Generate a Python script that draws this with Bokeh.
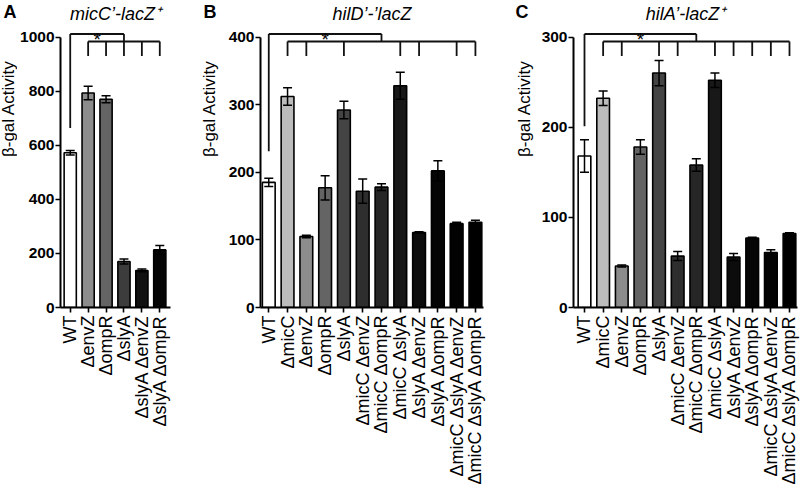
import math
from bokeh.plotting import figure
from bokeh.layouts import row
from bokeh.models import Range1d, FixedTicker, Whisker, TeeHead, ColumnDataSource
from bokeh.core.properties import value
from bokeh.embed import file_html
from bokeh.resources import INLINE

# ---------------- data ----------------
A_cats = ["WT", "ΔenvZ", "ΔompR", "ΔslyA", "ΔslyA ΔenvZ", "ΔslyA ΔompR"]
A_vals = [572, 793, 770, 170, 137, 213]
A_err = [8, 25, 13, 9, 5, 16]
A_sig = [1, 2, 3, 4, 5]
A_wt_leg = 664
A_yticks = [0, 200, 400, 600, 800, 1000]

B_cats = ["WT", "ΔmicC", "ΔenvZ", "ΔompR", "ΔslyA", "ΔmicC ΔenvZ", "ΔmicC ΔompR",
          "ΔmicC ΔslyA", "ΔslyA ΔenvZ", "ΔslyA ΔompR", "ΔmicC ΔslyA ΔenvZ", "ΔmicC ΔslyA ΔompR"]
B_vals = [185, 312, 105, 177, 292, 172, 178, 328, 111, 202, 124, 126]
B_err = [6, 13, 2, 18, 13, 18, 5, 20, 1, 15, 2, 3]
B_sig = [1, 2, 4, 7, 8, 10, 11]
B_wt_leg = 231
B_yticks = [0, 100, 200, 300, 400]

C_cats = list(B_cats)
C_vals = [168, 232, 46, 178, 260, 57, 158, 252, 56, 77, 61, 82]
C_err = [18, 8, 1, 8, 14, 5, 7, 8, 4, 1, 3, 1]
C_sig = [1, 2, 4, 5, 7, 8, 9, 10, 11]
C_wt_leg = 201
C_yticks = [0, 100, 200, 300]

A_colors = ["#ffffff", "#8c8c8c", "#646464", "#3c3c3c", "#111111", "#050505"]
B_colors = ["#ffffff", "#bcbcbc", "#8c8c8c", "#646464", "#444444", "#2e2e2e",
            "#262626", "#181818", "#0c0c0c", "#050505", "#020202", "#000000"]
C_colors = list(B_colors)

Y_TITLE = "β-gal Activity"

FONT = "Liberation Sans"
H = 488
BOTTOM = 181          # px below the zero line
AXIS_TOP_PX = 36.5    # px from top where the y axis ends
FRAME_H = H - BOTTOM
AXIS_PX = FRAME_H - AXIS_TOP_PX


def side(width, letter, letter_x, ylab_x):
    """narrow strip holding the panel letter and the y-axis title"""
    s = figure(width=width, height=H, output_backend="svg", toolbar_location=None,
               x_range=Range1d(0, width), y_range=Range1d(H, 0),
               x_axis_type=None, y_axis_type=None,
               min_border_left=0, min_border_right=0, min_border_top=0, min_border_bottom=0)
    s.outline_line_color = None
    s.xgrid.visible = False
    s.ygrid.visible = False
    s.text(x=[letter_x], y=[2], text=[letter], text_font=value(FONT),
           text_font_size="18px", text_font_style="bold", text_align="left",
           text_baseline="top", text_color="black")
    s.text(x=[ylab_x], y=[172], text=[Y_TITLE], text_font=value(FONT),
           text_font_size="17px", angle=math.pi / 2, text_align="center",
           text_baseline="middle", text_color="black")
    return s


def panel(cats, vals, errs, colors, sig, wt_leg, yticks, title,
          width, left, right, xpad_l, xpad_r):
    n = len(cats)
    ymax = yticks[-1]
    scale = AXIS_PX / ymax
    yend = FRAME_H / scale
    x0, x1 = -xpad_l, n - 1 + xpad_r
    p = figure(width=width, height=H, output_backend="svg", toolbar_location=None,
               x_range=Range1d(x0, x1), y_range=Range1d(0, yend),
               min_border_left=left, min_border_right=right,
               min_border_top=0, min_border_bottom=BOTTOM)
    p.outline_line_color = None
    p.xgrid.visible = False
    p.ygrid.visible = False
    p.background_fill_color = "white"

    xs = list(range(n))
    src = ColumnDataSource(dict(x=xs, top=vals, color=colors,
                                upper=[v + e for v, e in zip(vals, errs)],
                                lower=[v - e for v, e in zip(vals, errs)]))
    p.vbar(x="x", top="top", width=0.68, bottom=0, source=src,
           fill_color="color", line_color="black", line_width=1.6)
    w = Whisker(base="x", upper="upper", lower="lower", source=src, level="overlay",
                line_width=1.5, line_color="black",
                upper_head=TeeHead(size=9, line_width=1.5, line_color="black"),
                lower_head=TeeHead(size=9, line_width=1.5, line_color="black"))
    p.add_layout(w)

    # significance brackets
    top_lvl = ymax + 3 / scale
    sec_lvl = ymax - 4.5 / scale
    leg_lvl = ymax - 19 / scale
    first, last = sig[0], sig[-1]
    join = (first + last) / 2
    sx0 = [0, 0, join, first]
    sy0 = [top_lvl, top_lvl, top_lvl, sec_lvl]
    sx1 = [join, 0, join, last]
    sy1 = [top_lvl, wt_leg, sec_lvl, sec_lvl]
    for i in sig:
        sx0.append(i); sy0.append(sec_lvl); sx1.append(i); sy1.append(leg_lvl)
    p.segment(x0=sx0, y0=sy0, x1=sx1, y1=sy1, line_color="#111111", line_width=1.8)
    p.text(x=[join / 2], y=[ymax - 2.7 / scale], text=["*"],
           text_font=value(FONT), text_font_size="19px", text_align="center",
           text_baseline="alphabetic", text_color="black")

    # panel title (centred over the plotting area)
    p.text(x=[(x0 + x1) / 2], y=[ymax + (AXIS_TOP_PX - 13.5) / scale], text=[title],
           text_font=value(FONT), text_font_size="18px", text_font_style="italic",
           text_align="center", text_baseline="middle", text_color="black")

    # axes
    p.xaxis.ticker = FixedTicker(ticks=xs)
    p.xaxis.major_label_overrides = {i: c for i, c in enumerate(cats)}
    p.xaxis.major_label_orientation = math.pi / 2
    p.xaxis.major_label_text_font = FONT
    p.xaxis.major_label_text_font_size = "18px"
    p.xaxis.major_label_text_color = "black"
    p.xaxis.major_label_standoff = 3
    p.xaxis.minor_tick_line_color = None
    p.xaxis.major_tick_out = 5
    p.xaxis.major_tick_in = 0
    p.xaxis.major_tick_line_width = 1.6
    p.xaxis.axis_line_width = 2

    p.yaxis.ticker = FixedTicker(ticks=yticks)
    p.yaxis.bounds = (0, ymax)
    p.yaxis.major_label_text_font = FONT
    p.yaxis.major_label_text_font_size = "15.5px"
    p.yaxis.major_label_text_font_style = "bold"
    p.yaxis.major_label_text_color = "black"
    p.yaxis.major_label_standoff = 1
    p.yaxis.minor_tick_line_color = None
    p.yaxis.major_tick_out = 5
    p.yaxis.major_tick_in = 0
    p.yaxis.major_tick_line_width = 1.6
    p.yaxis.axis_line_width = 2
    return p


sA = side(17, "A", 3, 8)
pA = panel(A_cats, A_vals, A_err, A_colors, A_sig, A_wt_leg, A_yticks,
           "micC’-lacZ⁺", 181, 40, 28, 0.543, 0.598)
sB = side(24, "B", 5, 11)
pB = panel(B_cats, B_vals, B_err, B_colors, B_sig, B_wt_leg, B_yticks,
           "hilD’-’lacZ", 288, 38, 27, 0.44, 0.43)
sC = side(25, "C", 5, 14)
pC = panel(C_cats, C_vals, C_err, C_colors, C_sig, C_wt_leg, C_yticks,
           "hilA’-lacZ⁺", 265, 38, 3, 0.59, 0.43)

layout = row(sA, pA, sB, pB, sC, pC)
open("out.html", "w").write(file_html(layout, INLINE))
